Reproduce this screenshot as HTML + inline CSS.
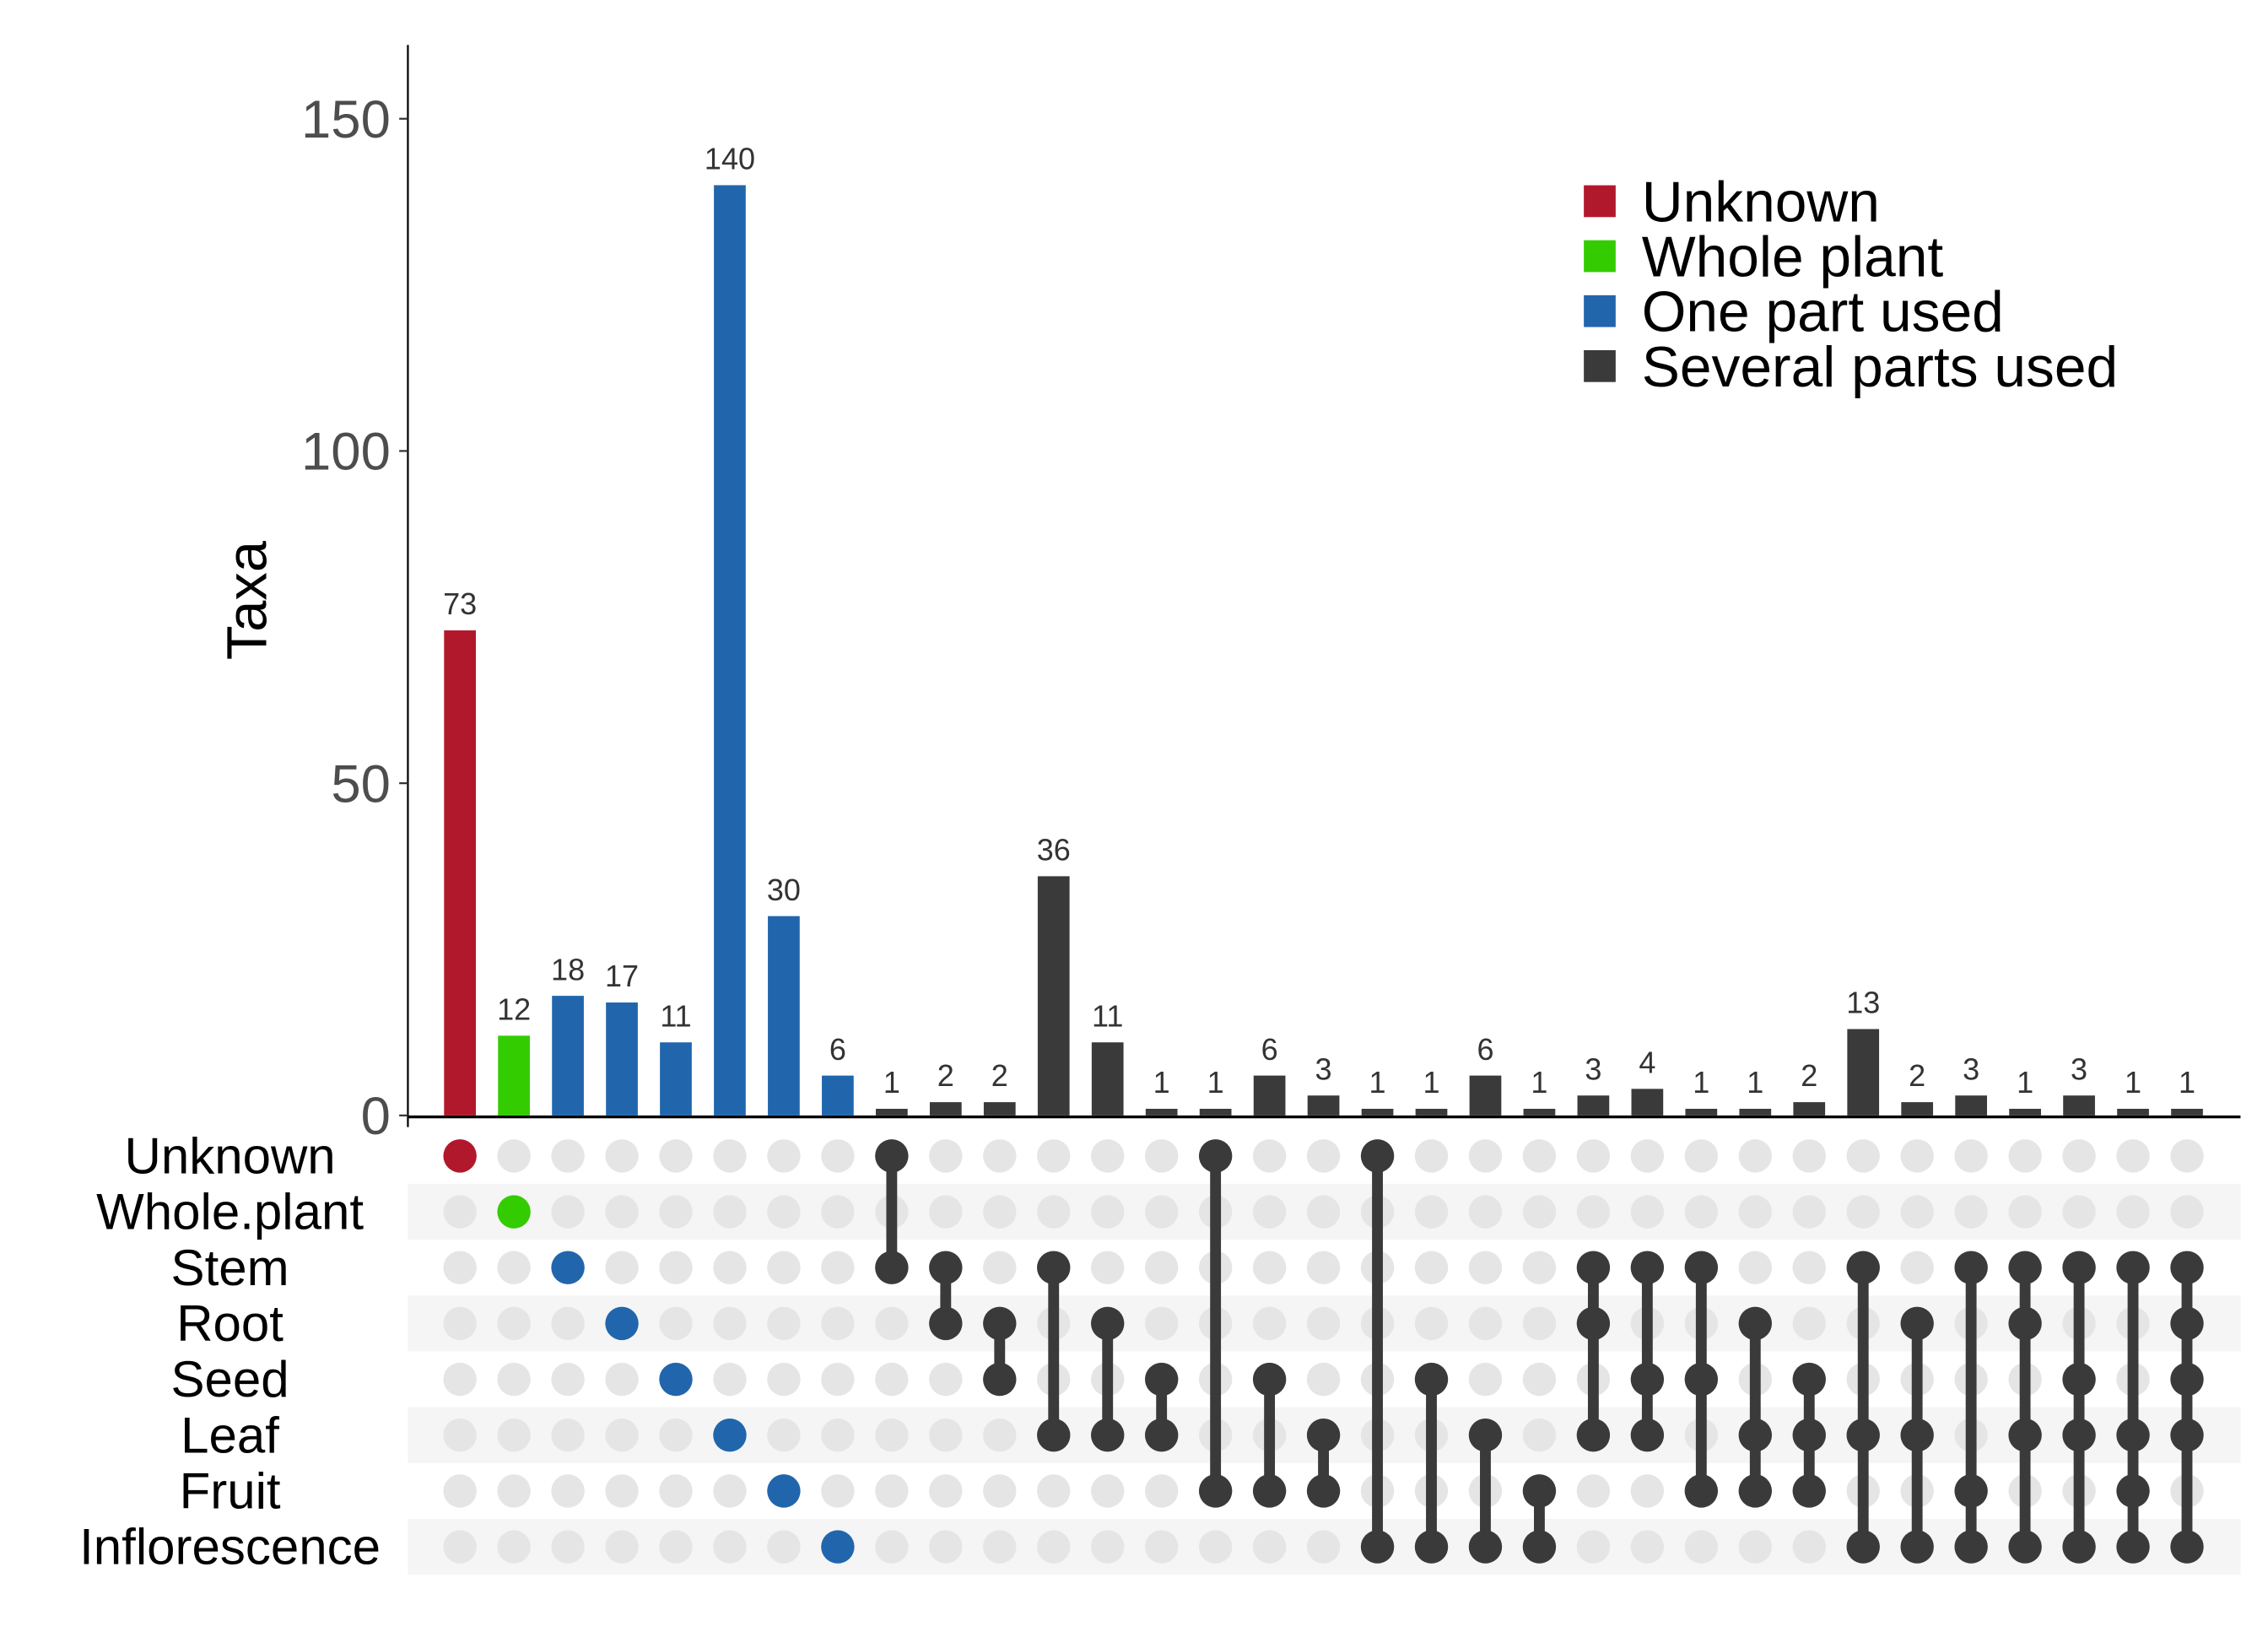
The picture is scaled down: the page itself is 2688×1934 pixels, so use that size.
<!DOCTYPE html>
<html><head><meta charset="utf-8"><style>
html,body{margin:0;padding:0;background:#fff;}
svg{display:block;font-family:"Liberation Sans",Arial,sans-serif;}
</style></head><body>
<svg id="chart" width="2688" height="1934" viewBox="0 0 1568 1128" xmlns="http://www.w3.org/2000/svg">
<g id="stripes"></g><g id="axes"></g><g id="bars"></g><g id="matrix"></g><g id="labels"></g>
<g id="legend"></g>
</svg>
<script>
const values=[73,12,18,17,11,140,30,6,1,2,2,36,11,1,1,6,3,1,1,6,1,3,4,1,1,2,13,2,3,1,3,1,1];
const groups=[0,1,2,2,2,2,2,2,3,3,3,3,3,3,3,3,3,3,3,3,3,3,3,3,3,3,3,3,3,3,3,3,3];
const sets=[[0],[1],[2],[3],[4],[5],[6],[7],[0,2],[2,3],[3,4],[2,5],[3,5],[4,5],[0,6],[4,6],[5,6],[0,7],[4,7],[5,7],[6,7],[2,3,5],[2,4,5],[2,4,6],[3,5,6],[4,5,6],[2,5,7],[3,5,7],[2,6,7],[2,3,5,7],[2,4,5,7],[2,5,6,7],[2,3,4,5,7]];
const rowNames=["Unknown","Whole.plant","Stem","Root","Seed","Leaf","Fruit","Inflorescence"];
const yTicks=[0,50,100,150];
const groupNames=["Unknown","Whole plant","One part used","Several parts used"];
const groupColors=["#b2182b","#33cc00","#2166ac","#3a3a3a"];
const NS="http://www.w3.org/2000/svg";
function el(t,a,p,txt){const e=document.createElementNS(NS,t);for(const k in a)e.setAttribute(k,a[k]);if(txt!==undefined)e.textContent=txt;document.getElementById(p).appendChild(e);return e;}
const x0=318,dx=(1512-318)/32;
const xs=i=>x0+i*dx;
const ys=v=>771-v*(771-82)/150;
const rowY=r=>799+r*38.6;
for(let r=1;r<8;r+=2){const e=el('rect',{x:282,y:rowY(r)-19.3,width:1267,height:38.6,fill:'#f5f5f5'},'stripes');

}
let a=el('line',{x1:282,y1:31,x2:282,y2:779,stroke:'#000','stroke-width':1.3},'axes');


a=el('line',{x1:282,y1:772,x2:1549,y2:772,stroke:'#000','stroke-width':2},'axes');


yTicks.forEach(t=>{el('line',{x1:276,x2:282,y1:ys(t),y2:ys(t),stroke:'#333','stroke-width':1.3},'axes');
const l=el('text',{x:270,y:ys(t)+13,'text-anchor':'end','font-size':37,fill:'#4d4d4d'},'axes',String(t));

});
const yt=el('text',{x:0,y:0,transform:'translate(184,415) rotate(-90)','text-anchor':'middle','font-size':39,fill:'#000'},'axes','Taxa');


values.forEach((v,i)=>{const b=el('rect',{x:xs(i)-11,y:ys(v),width:22,height:771-ys(v),fill:groupColors[groups[i]]},'bars');


const t=el('text',{x:xs(i),y:ys(v)-11,'text-anchor':'middle','font-size':21,fill:'#333'},'bars',String(v));

});
sets.forEach((s,i)=>{for(let r=0;r<8;r++){const c=el('ellipse',{cx:xs(i),cy:rowY(r),rx:11.5,ry:11.5,fill:'#e5e5e5'},'matrix');

}
const col=s.length>1?groupColors[3]:groupColors[groups[i]];
if(s.length>1){const ln=el('line',{x1:xs(i),x2:xs(i),y1:rowY(Math.min(...s)),y2:rowY(Math.max(...s)),stroke:col,'stroke-width':7.5},'matrix');

}
s.forEach(r=>{const c=el('ellipse',{cx:xs(i),cy:rowY(r),rx:11.5,ry:11.5,fill:col},'matrix');

});});
rowNames.forEach((n,r)=>{const t=el('text',{x:159,y:rowY(r)+12,'text-anchor':'middle','font-size':35,fill:'#000'},'labels',n);

});
groupNames.forEach((n,k)=>{const y=139+k*38;
const s=el('rect',{x:1095,y:y-11,width:22,height:22,fill:groupColors[k]},'legend');


const t=el('text',{x:1135,y:y+14,'font-size':39.5,fill:'#000'},'legend',n);

});
</script>
</body></html>
